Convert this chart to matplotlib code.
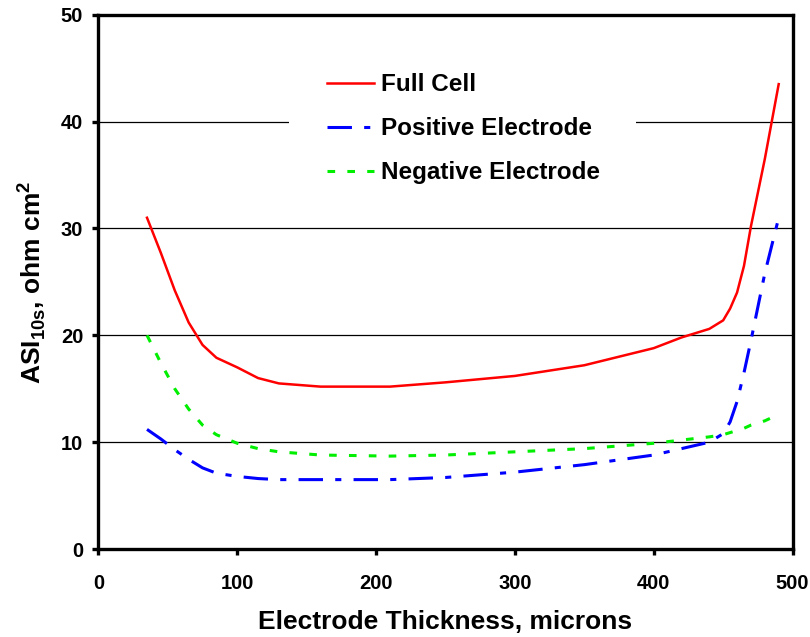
import matplotlib
matplotlib.use("Agg")
import matplotlib.pyplot as plt
from matplotlib.patches import Rectangle

plt.rcParams['font.family'] = ['Liberation Sans', 'DejaVu Sans']
plt.rcParams['font.weight'] = 'bold'
plt.rcParams['mathtext.fontset'] = 'custom'
plt.rcParams['mathtext.rm'] = 'Liberation Sans:bold'
plt.rcParams['mathtext.bf'] = 'Liberation Sans:bold'

# electrode thickness, microns
thickness = [35, 45, 55, 65, 75, 85, 100, 115, 130, 160, 210, 250, 300, 350,
             400, 420, 440, 450, 455, 460, 465, 470, 480, 490]
# ASI 10s, ohm cm2
full_cell = [31.0, 27.7, 24.2, 21.2, 19.1, 17.9, 17.0, 16.0, 15.5, 15.2, 15.2,
             15.6, 16.2, 17.2, 18.8, 19.8, 20.6, 21.4, 22.5, 24.0, 26.5, 30.2,
             36.5, 43.5]
positive = [11.2, 10.3, 9.3, 8.4, 7.6, 7.1, 6.8, 6.6, 6.5, 6.5, 6.5, 6.7, 7.2,
            7.9, 8.8, 9.4, 10.0, 10.8, 11.9, 13.8, 16.5, 19.5, 25.8, 31.0]
negative = [20.0, 17.4, 15.0, 13.1, 11.6, 10.7, 9.9, 9.4, 9.1, 8.8, 8.7, 8.8,
            9.1, 9.4, 9.9, 10.2, 10.5, 10.7, 10.9, 11.1, 11.3, 11.6, 12.0, 12.6]

fig = plt.figure(figsize=(8.1, 6.37), dpi=100)
ax = fig.add_axes([0.1215, 0.138, 0.857, 0.839])

ax.plot(thickness, full_cell, color='red', lw=1.8, label='Full Cell')
ax.plot(thickness, positive, color='blue', lw=2.2, dashes=(8, 4, 2, 4),
        label='Positive Electrode')
ax.plot(thickness, negative, color='#00ee00', lw=2.2, dashes=(2.5, 4),
        label='Negative Electrode')

ax.set_xlim(0, 500)
ax.set_ylim(0, 50)
ax.set_xticks([0, 100, 200, 300, 400, 500])
ax.set_yticks([0, 10, 20, 30, 40, 50])
ax.yaxis.grid(True, color='black', lw=0.9)
ax.set_axisbelow(True)
for s in ax.spines.values():
    s.set_linewidth(2.4)
ax.tick_params(axis='both', direction='out', length=4, width=2.4,
               labelsize=14.5)
ax.tick_params(axis='x', pad=14)
ax.tick_params(axis='y', pad=7)
for lab in ax.get_xticklabels() + ax.get_yticklabels():
    lab.set_fontweight('bold')

ax.set_xlabel('Electrode Thickness, microns', fontsize=19, fontweight='bold',
              labelpad=12)
ax.set_ylabel(r'ASI$_{\mathrm{10s}}$, ohm cm$^{\mathrm{2}}$', fontsize=19,
              fontweight='bold', labelpad=9)

# white box behind the legend, hiding the 40 gridline
ax.add_patch(Rectangle((0.275, 0.66), 0.5, 0.27, transform=ax.transAxes,
                       facecolor='white', edgecolor='none', zorder=1.5))

leg = ax.legend(loc='upper left', bbox_to_anchor=(0.33, 0.89), frameon=False,
                prop={'size': 17.5, 'weight': 'bold'}, handlelength=1.9,
                handletextpad=0.3, labelspacing=0.86, borderpad=0,
                borderaxespad=0)

fig.savefig('out.png', dpi=100)
